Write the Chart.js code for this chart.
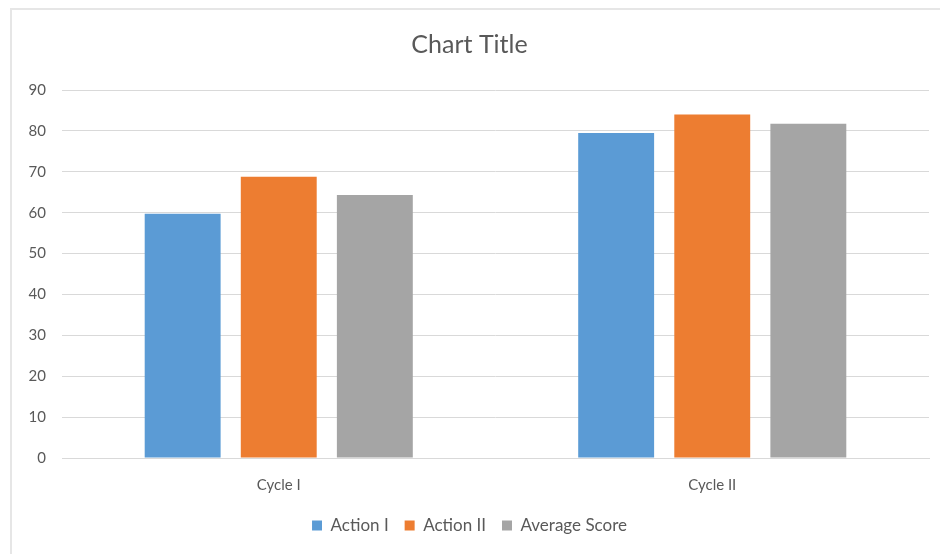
<!DOCTYPE html>
<html>
<head>
<meta charset="utf-8">
<script src="https://cdn.jsdelivr.net/npm/chart.js@4"></script>
<style>
  html, body { margin: 0; padding: 0; background: #fff; }
  #wrap { position: relative; width: 940px; height: 554px; }
  #frame { position: absolute; left: 10px; top: 8px; right: -2px; bottom: -2px; border-left: 2px solid #e6e6e6; border-top: 2px solid #e6e6e6; }
  canvas { position: absolute; left: 0; top: 0; }
</style>
</head>
<body>
<div id="wrap">
  <div id="frame"></div>
  <canvas id="chart" width="940" height="554"></canvas>
</div>
<script>
const categories = ['Cycle I', 'Cycle II'];
const actionOne = [59.75, 79.5];
const actionTwo = [68.8, 84];
const averageScore = [64.3, 81.75];
const yTicks = [0, 10, 20, 30, 40, 50, 60, 70, 80, 90];

const textColor = '#595959';
const font = 'Lato, "Open Sans", sans-serif';

new Chart(document.getElementById('chart'), {
  type: 'bar',
  data: {
    labels: categories,
    datasets: [
      { label: 'Action I', data: actionOne, backgroundColor: '#5B9BD5' },
      { label: 'Action II', data: actionTwo, backgroundColor: '#ED7D31' },
      { label: 'Average Score', data: averageScore, backgroundColor: '#A5A5A5' }
    ]
  },
  options: {
    responsive: false,
    animation: false,
    categoryPercentage: 0.665,
    barPercentage: 0.79,
    layout: { padding: { left: 10, right: 11, top: 30, bottom: 10 } },
    plugins: {
      title: { display: true, text: 'Chart Title', color: textColor, font: { family: font, size: 25, weight: 'normal' }, padding: { top: 0, bottom: 30 } },
      legend: {
        position: 'bottom',
        labels: { color: textColor, font: { family: font, size: 17 }, boxWidth: 10, boxHeight: 10, padding: 16 }
      },
      tooltip: { enabled: false }
    },
    scales: {
      x: {
        grid: { display: false },
        border: { color: '#d9d9d9', width: 1 },
        ticks: { color: textColor, font: { family: font, size: 15 }, padding: 10 },
        afterFit: s => { s.height = 43; }
      },
      y: {
        min: 0,
        max: 90,
        afterBuildTicks: s => { s.ticks = yTicks.map(v => ({ value: v })); },
        grid: { color: '#d9d9d9', drawTicks: false },
        border: { display: false },
        ticks: { color: textColor, font: { family: font, size: 15 }, padding: 16 },
        afterFit: s => { s.width = 52; }
      }
    }
  }
});
</script>
</body>
</html>
